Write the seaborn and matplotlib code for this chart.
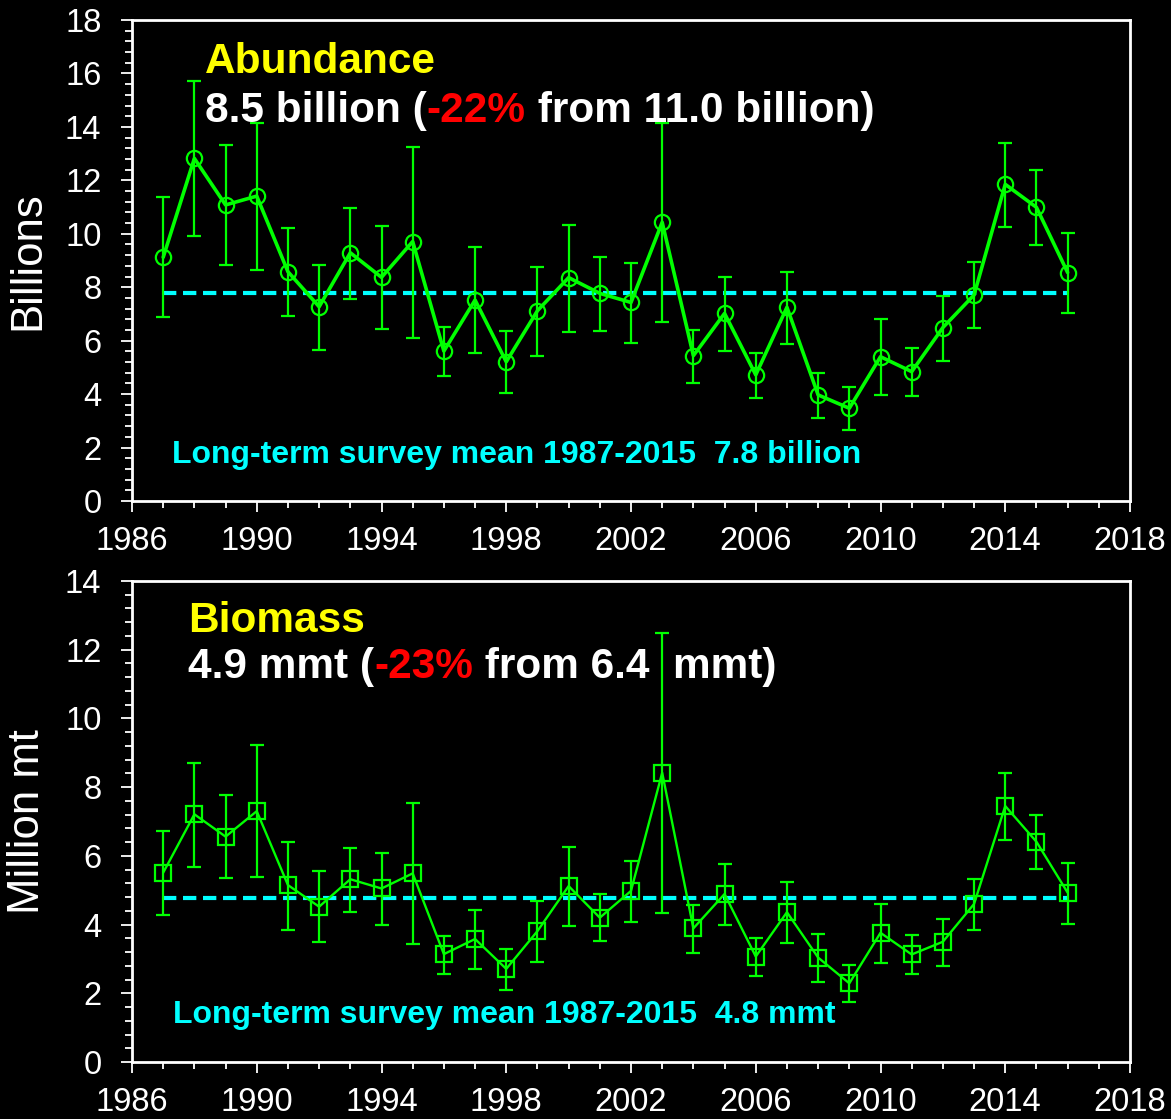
import numpy as np
import pandas as pd
import matplotlib
matplotlib.use("Agg")
import matplotlib.pyplot as plt
import matplotlib.transforms as mtransforms
from matplotlib.ticker import MultipleLocator
import seaborn as sns

# ---------------- data ----------------
years = list(range(1987, 2017))

abundance = [9.12, 12.82, 11.08, 11.41, 8.58, 7.27, 9.29, 8.37, 9.71, 5.61,
             7.52, 5.21, 7.12, 8.36, 7.77, 7.43, 10.43, 5.44, 7.02, 4.72,
             7.25, 3.97, 3.47, 5.40, 4.84, 6.49, 7.71, 11.85, 10.99, 8.55]
abundance_hi = [11.39, 15.73, 13.32, 14.15, 10.20, 8.83, 10.98, 10.29, 13.26, 6.50,
                9.51, 6.37, 8.77, 10.34, 9.12, 8.91, 14.16, 6.40, 8.37, 5.53,
                8.56, 4.80, 4.28, 6.81, 5.74, 7.68, 8.93, 13.41, 12.38, 10.02]
abundance_lo = [6.87, 9.91, 8.83, 8.65, 6.91, 5.64, 7.56, 6.44, 6.10, 4.68,
                5.53, 4.05, 5.44, 6.31, 6.37, 5.93, 6.69, 4.40, 5.61, 3.84,
                5.89, 3.09, 2.64, 3.98, 3.93, 5.25, 6.46, 10.25, 9.58, 7.05]

biomass = [5.51, 7.21, 6.56, 7.30, 5.15, 4.52, 5.32, 5.05, 5.49, 3.14,
           3.58, 2.71, 3.81, 5.12, 4.20, 4.98, 8.42, 3.89, 4.89, 3.07,
           4.36, 3.04, 2.29, 3.76, 3.13, 3.50, 4.60, 7.45, 6.41, 4.93]
biomass_hi = [6.73, 8.69, 7.76, 9.23, 6.41, 5.56, 6.23, 6.07, 7.55, 3.68,
              4.42, 3.29, 4.69, 6.27, 4.88, 5.85, 12.48, 4.57, 5.76, 3.60,
              5.23, 3.72, 2.82, 4.60, 3.69, 4.16, 5.32, 8.40, 7.19, 5.80]
biomass_lo = [4.28, 5.68, 5.36, 5.39, 3.84, 3.50, 4.37, 3.99, 3.43, 2.56,
              2.71, 2.10, 2.92, 3.96, 3.53, 4.07, 4.35, 3.16, 3.98, 2.50,
              3.45, 2.34, 1.74, 2.87, 2.55, 2.80, 3.84, 6.46, 5.61, 4.03]

abundance_mean = 7.8
biomass_mean = 4.76

abund_title = "Abundance"
abund_sub = [("8.5 billion (", "white"), ("-22%", "#FF0000"), (" from 11.0 billion)", "white")]
abund_mean_text = "Long-term survey mean 1987-2015  7.8 billion"
bio_title = "Biomass"
bio_sub = [("4.9 mmt (", "white"), ("-23%", "#FF0000"), (" from 6.4  mmt)", "white")]
bio_mean_text = "Long-term survey mean 1987-2015  4.8 mmt"

x_ticks = [1986, 1990, 1994, 1998, 2002, 2006, 2010, 2014, 2018]

# ---------------- style ----------------
sns.set_style("ticks")
plt.rcParams["font.family"] = ["Liberation Sans", "DejaVu Sans"]

GREEN = "#00FF00"
CYAN = "#00FFFF"
YELLOW = "#FFFF00"

df = pd.DataFrame({"year": years, "abundance": abundance, "biomass": biomass})

W, H = 1171, 1119
fig = plt.figure(figsize=(W / 100, H / 100), dpi=100, facecolor="black")
ax1 = fig.add_axes([132 / W, 1 - 501 / H, 998 / W, 481 / H])
ax2 = fig.add_axes([132 / W, 1 - 1062 / H, 998 / W, 481 / H])

renderer = fig.canvas.get_renderer()


def multicolor(ax, x, y, parts, **kw):
    t = ax.transAxes
    for s, c in parts:
        txt = ax.text(x, y, s, color=c, transform=t, **kw)
        ex = txt.get_window_extent(renderer=renderer)
        t = mtransforms.offset_copy(txt.get_transform(), x=ex.width, units="dots")


def panel(ax, col, lo, hi, mean, ymax, ylabel, marker, msize, lw, title, sub,
          mean_text, tx, ty1, ty2, mx, my):
    ax.set_facecolor("black")
    vals = np.array(df[col])
    yerr = [vals - np.array(lo), np.array(hi) - vals]
    ax.errorbar(df["year"], vals, yerr=yerr, fmt="none", ecolor=GREEN,
                elinewidth=1.6, capsize=5, capthick=1.6, zorder=2)
    sns.lineplot(data=df, x="year", y=col, ax=ax, color=GREEN, linewidth=lw,
                 marker=marker, markersize=msize, markerfacecolor="none",
                 markeredgecolor=GREEN, markeredgewidth=1.6, zorder=3)
    ax.plot([years[0], years[-1]], [mean, mean], color=CYAN, linewidth=3,
            dashes=(3.2, 1.6), zorder=1)

    ax.set_xlim(1986, 2018)
    ax.set_ylim(0, ymax)
    ax.set_xticks(x_ticks)
    ax.xaxis.set_minor_locator(MultipleLocator(1))
    ax.yaxis.set_major_locator(MultipleLocator(2))
    ax.yaxis.set_minor_locator(MultipleLocator(0.4))
    ax.tick_params(which="major", direction="out", length=8, width=1.3,
                   color="white", labelcolor="white", labelsize=23.5)
    ax.tick_params(which="minor", direction="out", length=5, width=1.3,
                   color="white")
    ax.tick_params(axis="y", which="major", pad=14)
    ax.tick_params(axis="x", which="major", pad=10)
    for sp in ax.spines.values():
        sp.set_color("white")
        sp.set_linewidth(2)
        sp.set_visible(True)
    ax.set_xlabel("")
    ax.set_ylabel(ylabel, color="white", fontsize=31.5, labelpad=12)

    ax.text(tx, ty1, title, transform=ax.transAxes, color=YELLOW,
            fontsize=30.5, fontweight="bold")
    multicolor(ax, tx, ty2, sub, fontsize=30.5, fontweight="bold")
    ax.text(mx, my, mean_text, transform=ax.transAxes, color=CYAN,
            fontsize=23, fontweight="bold")


panel(ax1, "abundance", abundance_lo, abundance_hi, abundance_mean, 18,
      "Billions", "o", 11, 2.6, abund_title, abund_sub, abund_mean_text,
      0.073, 0.89, 0.788, 0.040, 0.079)
panel(ax2, "biomass", biomass_lo, biomass_hi, biomass_mean, 14,
      "Million mt", "s", 12, 1.7, bio_title, bio_sub, bio_mean_text,
      0.056, 0.895, 0.798, 0.041, 0.081)

fig.savefig("out.png", dpi=100, facecolor="black")
